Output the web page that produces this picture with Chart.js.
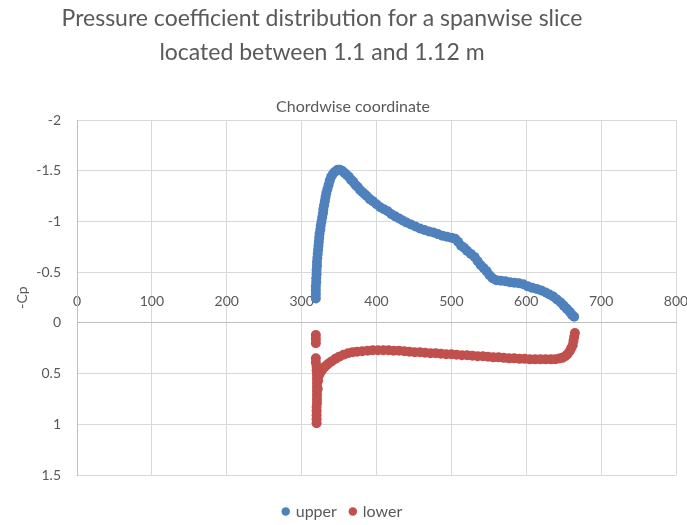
<!DOCTYPE html>
<html>
<head>
<meta charset="utf-8">
<script src="https://cdn.jsdelivr.net/npm/chart.js@4/dist/chart.umd.min.js"></script>
<style>
  html, body { margin: 0; padding: 0; background: #fff; }
  #wrap { width: 687px; height: 525px; position: relative; }
</style>
</head>
<body>
<div id="wrap"><canvas id="cpChart"></canvas></div>
<script>
// Text
const titleLines = ['Pressure coefficient distribution for a spanwise slice', 'located between 1.1 and 1.12 m'];
const xAxisTitle = 'Chordwise coordinate';
const yAxisTitle = '-Cp';

// Axis ticks
const xTicks = [0, 100, 200, 300, 400, 500, 600, 700, 800];
const yTicks = [-2, -1.5, -1, -0.5, 0, 0.5, 1, 1.5];

// Upper surface
const upperX = [319, 319, 319, 319, 319.5, 319.5, 320, 320, 320.5, 320.5, 321, 321.5, 322, 322.5, 323, 323.5,
  324, 325, 325.5, 326.5, 327.5, 328.5, 329, 330, 331, 332, 333, 334.5, 336, 337.5, 339.5, 342, 344.5, 348, 351,
  354, 357, 360, 363, 366, 369, 372, 375, 378, 381, 384, 387, 391, 395, 400, 405, 410, 415, 420, 425, 430, 435,
  440, 446, 452, 458, 464, 470, 476, 482, 488, 494, 500, 505, 509, 513, 517, 521, 526, 531, 535, 539, 543, 547,
  551, 555, 560, 566, 572, 578, 584, 590, 596, 602, 608, 614, 620, 626, 631, 636, 641, 646, 650, 654, 658, 661, 664];
const upperY = [-0.24, -0.28, -0.32, -0.36, -0.40, -0.44, -0.48, -0.52, -0.56, -0.60, -0.64, -0.68, -0.72, -0.76, -0.80, -0.84,
  -0.88, -0.92, -0.96, -1.00, -1.04, -1.08, -1.12, -1.16, -1.20, -1.24, -1.28, -1.32, -1.36, -1.40, -1.44, -1.47, -1.49, -1.51, -1.51,
  -1.50, -1.48, -1.46, -1.44, -1.41, -1.39, -1.36, -1.34, -1.31, -1.29, -1.27, -1.25, -1.22, -1.20, -1.17, -1.14, -1.12, -1.10, -1.07, -1.05, -1.03, -1.01,
  -0.99, -0.97, -0.95, -0.93, -0.915, -0.90, -0.89, -0.875, -0.86, -0.85, -0.84, -0.83, -0.80, -0.76, -0.74, -0.71, -0.68, -0.65, -0.61, -0.57, -0.54, -0.51,
  -0.47, -0.44, -0.42, -0.415, -0.41, -0.40, -0.395, -0.39, -0.38, -0.36, -0.345, -0.335, -0.32, -0.30, -0.28, -0.26, -0.23, -0.20, -0.17, -0.14, -0.11, -0.08, -0.06];

// Lower surface
const lowerX = [319, 319, 319, 319, 319, 320, 320, 320.5, 320.5, 320.5, 320.5, 320.5, 320.5, 320.5, 320.5, 320, 320, 320, 320, 320,
  322, 322, 321.5, 323, 325, 327, 330, 333, 336, 340, 345, 350, 356, 362, 368, 374, 381, 388, 395, 402, 409, 416, 423, 430,
  437, 444, 451, 458, 465, 472, 479, 486, 493, 500, 507, 514, 521, 528, 535, 542, 549, 556, 563, 570, 577, 584, 591, 598,
  605, 612, 619, 626, 633, 639, 644, 648, 652, 655, 658, 660, 662, 663, 664, 665];
const lowerY = [0.12, 0.16, 0.20, 0.35, 0.39, 0.43, 0.47, 0.51, 0.55, 0.59, 0.63, 0.67, 0.71, 0.75, 0.79, 0.83, 0.87, 0.91, 0.95, 0.99,
  0.49, 0.57, 0.65, 0.52, 0.49, 0.47, 0.44, 0.42, 0.40, 0.38, 0.355, 0.335, 0.315, 0.30, 0.29, 0.285, 0.28, 0.275, 0.27, 0.27, 0.27, 0.27, 0.275, 0.275,
  0.28, 0.285, 0.29, 0.29, 0.295, 0.30, 0.30, 0.305, 0.31, 0.31, 0.315, 0.32, 0.32, 0.325, 0.33, 0.33, 0.335, 0.34, 0.34, 0.345, 0.35, 0.35, 0.355, 0.355,
  0.36, 0.36, 0.36, 0.36, 0.36, 0.358, 0.352, 0.345, 0.33, 0.31, 0.28, 0.25, 0.22, 0.18, 0.14, 0.10];

const seriesNames = ['upper', 'lower'];
const seriesColors = ['#4F81BD', '#C0504D'];

function toPoints(xs, ys) {
  return xs.map((x, i) => ({ x: x, y: ys[i] }));
}

// Title and top axis title, drawn on the canvas
const headerText = {
  id: 'headerText',
  afterDraw(chart) {
    const ctx = chart.ctx;
    ctx.save();
    ctx.fillStyle = '#595959';
    ctx.textAlign = 'center';
    ctx.textBaseline = 'middle';
    ctx.font = '23px Lato';
    ctx.fillText(titleLines[0], 322, 19);
    ctx.fillText(titleLines[1], 322, 53);
    ctx.font = '16px Lato';
    ctx.fillText(xAxisTitle, 353, 107);
    ctx.restore();
  }
};

Chart.defaults.font.family = 'Lato';
Chart.defaults.color = '#595959';

const ctx = document.getElementById('cpChart').getContext('2d');
new Chart(ctx, {
  type: 'scatter',
  data: {
    datasets: [
      {
        label: seriesNames[0],
        data: toPoints(upperX, upperY),
        backgroundColor: seriesColors[0],
        borderColor: seriesColors[0],
        borderWidth: 0,
        pointRadius: 5,
        pointHoverRadius: 5
      },
      {
        label: seriesNames[1],
        data: toPoints(lowerX, lowerY),
        backgroundColor: seriesColors[1],
        borderColor: seriesColors[1],
        borderWidth: 0,
        pointRadius: 5,
        pointHoverRadius: 5
      }
    ]
  },
  options: {
    responsive: true,
    maintainAspectRatio: false,
    animation: false,
    layout: {
      padding: { top: 120, left: 10, right: 11, bottom: -4.5 }
    },
    plugins: {
      legend: {
        position: 'bottom',
        // empty legend title only adds the gap below the plot
        title: { display: true, text: '', font: { size: 10 }, padding: { top: 2.5, bottom: 0 } },
        labels: {
          usePointStyle: true,
          pointStyle: 'circle',
          boxWidth: 4,
          boxHeight: 6,
          padding: 14,
          font: { size: 16 },
          color: '#595959'
        }
      },
      tooltip: { enabled: false }
    },
    scales: {
      x: {
        type: 'linear',
        position: { y: 0 },
        min: xTicks[0],
        max: xTicks[xTicks.length - 1],
        afterBuildTicks: (scale) => { scale.ticks = xTicks.map(v => ({ value: v })); },
        ticks: {
          padding: -29.5,
          font: { size: 14 },
          color: '#595959',
          maxRotation: 0,
          callback: (v) => String(v)
        },
        grid: { color: '#d9d9d9', drawTicks: false },
        border: { color: '#bfbfbf', width: 1 }
      },
      y: {
        type: 'linear',
        reverse: true,
        min: yTicks[0],
        max: yTicks[yTicks.length - 1],
        afterBuildTicks: (scale) => { scale.ticks = yTicks.map(v => ({ value: v })); },
        afterFit: (scale) => { scale.width = 67; },
        ticks: {
          padding: 16,
          font: { size: 14 },
          color: '#595959',
          callback: (v) => String(v)
        },
        grid: { color: '#d9d9d9', drawTicks: false },
        border: { color: '#bfbfbf', width: 1 },
        title: {
          display: true,
          text: yAxisTitle,
          font: { size: 14 },
          color: '#595959'
        }
      }
    }
  },
  plugins: [headerText]
});
</script>
</body>
</html>
